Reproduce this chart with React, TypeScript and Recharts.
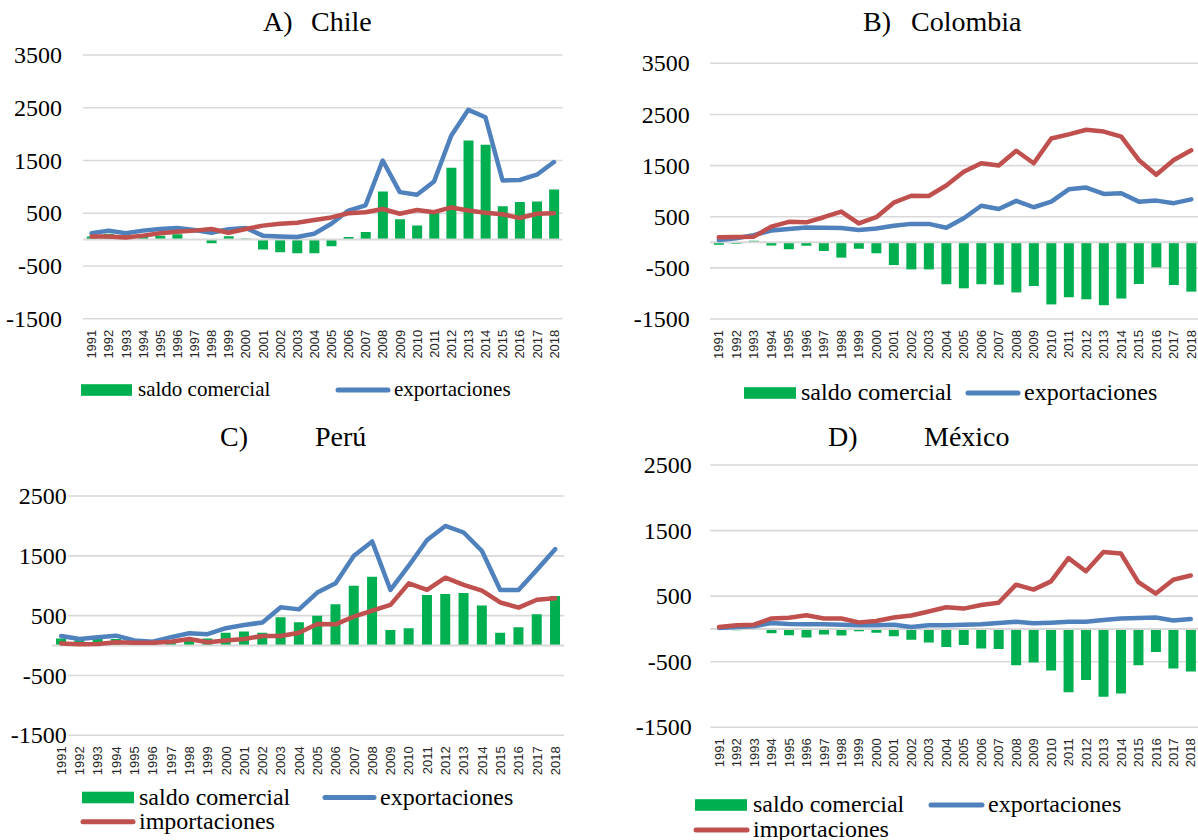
import React from 'react';
import { ComposedChart, Bar, Line, XAxis, YAxis, CartesianGrid, ReferenceLine } from 'recharts';

// ---- data (millones de dólares) ----
const years = [
  '1991', '1992', '1993', '1994', '1995', '1996', '1997', '1998', '1999', '2000',
  '2001', '2002', '2003', '2004', '2005', '2006', '2007', '2008', '2009', '2010',
  '2011', '2012', '2013', '2014', '2015', '2016', '2017', '2018',
];

const chileSaldo = [60, 110, 80, 95, 75, 100, 10, -70, 65, 20, -190, -240, -260, -260, -125, 50, 145, 910, 385, 265, 520, 1360, 1880, 1800, 630, 715, 720, 950];
const chileExport = [120, 170, 120, 170, 200, 220, 180, 130, 195, 220, 75, 60, 50, 110, 300, 550, 650, 1500, 900, 850, 1100, 1970, 2460, 2320, 1120, 1130, 1230, 1470];
const chileImport = [60, 60, 40, 75, 120, 150, 170, 200, 130, 200, 265, 300, 320, 370, 420, 500, 520, 580, 490, 560, 520, 610, 550, 510, 480, 410, 490, 500];

const colombiaSaldo = [-50, -30, 30, -65, -135, -70, -170, -300, -125, -215, -445, -530, -530, -820, -900, -820, -830, -980, -855, -1215, -1075, -1115, -1230, -1100, -815, -490, -835, -965];
const colombiaExport = [45, 80, 140, 230, 260, 290, 285, 280, 240, 270, 325, 360, 360, 285, 470, 715, 650, 810, 685, 795, 1035, 1070, 945, 960, 795, 815, 765, 840];
const colombiaImport = [100, 105, 110, 306, 400, 390, 490, 600, 370, 490, 775, 910, 905, 1110, 1380, 1545, 1500, 1790, 1545, 2030, 2110, 2200, 2165, 2065, 1610, 1320, 1610, 1800];

const peruSaldo = [120, 90, 110, 110, 40, 20, 75, 105, 120, 215, 235, 215, 475, 390, 500, 690, 1000, 1150, 260, 290, 845, 860, 880, 670, 215, 305, 525, 830];
const peruExport = [160, 110, 140, 165, 85, 65, 140, 205, 190, 290, 345, 385, 640, 605, 885, 1040, 1500, 1740, 930, 1335, 1765, 2000, 1890, 1580, 930, 930, 1265, 1610];
const peruImport = [35, 20, 28, 55, 45, 45, 65, 110, 55, 85, 110, 160, 160, 215, 360, 355, 485, 585, 680, 1040, 930, 1135, 1015, 920, 720, 635, 765, 790];

const mexicoSaldo = [-10, -20, -10, -65, -95, -130, -85, -100, -35, -60, -110, -165, -205, -275, -245, -300, -305, -555, -510, -635, -965, -780, -1035, -985, -555, -350, -605, -650];
const mexicoExport = [15, 30, 40, 90, 75, 70, 70, 65, 55, 55, 65, 30, 55, 55, 65, 70, 90, 110, 85, 95, 110, 110, 135, 160, 165, 175, 130, 150];
const mexicoImport = [30, 55, 65, 160, 170, 210, 160, 160, 100, 120, 175, 205, 265, 330, 310, 365, 400, 675, 600, 725, 1080, 880, 1175, 1150, 715, 540, 750, 815];

const ticksWide = [-1500, -500, 500, 1500, 2500, 3500];
const ticksNarrow = [-1500, -500, 500, 1500, 2500];

const SERIES_SALDO = 'saldo comercial';
const SERIES_EXP = 'exportaciones';
const SERIES_IMP = 'importaciones';

// ---- styling ----
const GREEN = '#00B050';
const BLUE = '#4F81BD';
const RED = '#C0504D';
const GRID = '#D9D9D9';
const SERIF = "'Liberation Serif', 'Times New Roman', serif";
const SANS = "'Liberation Sans', Arial, sans-serif";

function buildRows(saldo: number[], exp: number[], imp: number[]) {
  return years.map((year, i) => ({
    year,
    saldo: saldo[i],
    exportaciones: exp[i],
    importaciones: imp[i],
  }));
}

const YTick = (props: any) => {
  const { x, y, payload, shift } = props;
  const label = String(payload.value);
  const fs = 24;
  const w = label.length * fs * 0.5 + 2;
  const right = x + shift;
  return (
    <g>
      <rect x={right - w} y={y - fs * 0.42} width={w + 1} height={fs * 0.84} fill="#fff" />
      <text x={right} y={y} dy="0.34em" textAnchor="end" fontFamily={SERIF} fontSize={fs} fill="#000">
        {label}
      </text>
    </g>
  );
};

const XTick = (props: any) => {
  const { x, y, payload } = props;
  return (
    <text
      transform={`translate(${x},${y + 11}) rotate(-90)`}
      textAnchor="end"
      dy="0.36em"
      fontFamily={SANS}
      fontSize={13}
      fill="#262626"
    >
      {payload.value}
    </text>
  );
};

type PanelProps = {
  left: number;
  top: number;
  width: number;
  height: number;
  margin: { top: number; right: number; bottom: number; left: number };
  yAxisWidth: number;
  domain: [number, number];
  ticks: number[];
  tickShift: number;
  data: any[];
};

function Panel({ left, top, width, height, margin, yAxisWidth, domain, ticks, tickShift, data }: PanelProps) {
  return (
    <div style={{ position: 'absolute', left, top }}>
      <ComposedChart width={width} height={height} data={data} margin={margin} barCategoryGap="22%">
        <CartesianGrid horizontal vertical={false} stroke={GRID} strokeWidth={1.6} />
        <XAxis
          dataKey="year"
          interval={0}
          tickLine={false}
          axisLine={false}
          tickSize={0}
          tickMargin={0}
          height={40}
          tick={(p: any) => <XTick {...p} />}
        />
        <YAxis
          type="number"
          domain={domain}
          ticks={ticks}
          interval={0}
          width={yAxisWidth}
          tickLine={false}
          axisLine={false}
          tickSize={0}
          tickMargin={0}
          allowDataOverflow
          tick={(p: any) => <YTick {...p} shift={tickShift} />}
        />
        <ReferenceLine y={0} stroke={GRID} strokeWidth={2} />
        <Bar dataKey="saldo" name={SERIES_SALDO} fill={GREEN} isAnimationActive={false} />
        <Line
          type="linear"
          dataKey="exportaciones"
          name={SERIES_EXP}
          stroke={BLUE}
          strokeWidth={4.5}
          strokeLinejoin="round"
          strokeLinecap="round"
          dot={false}
          activeDot={false}
          isAnimationActive={false}
        />
        <Line
          type="linear"
          dataKey="importaciones"
          name={SERIES_IMP}
          stroke={RED}
          strokeWidth={4.5}
          strokeLinejoin="round"
          strokeLinecap="round"
          dot={false}
          activeDot={false}
          isAnimationActive={false}
        />
      </ComposedChart>
    </div>
  );
}

// legend pieces drawn in an overlay
function BarKey({ x1, x2, cy }: { x1: number; x2: number; cy: number }) {
  return <rect x={x1} y={cy - 5.8} width={x2 - x1} height={11.6} fill={GREEN} />;
}
function LineKey({ x1, x2, cy, color }: { x1: number; x2: number; cy: number; color: string }) {
  return <line x1={x1 + 2} x2={x2 - 2} y1={cy} y2={cy} stroke={color} strokeWidth={5} strokeLinecap="round" />;
}
function KeyText({ x, cy, fs, children }: { x: number; cy: number; fs: number; children: React.ReactNode }) {
  return (
    <text x={x} y={cy + fs * 0.3} fontFamily={SERIF} fontSize={fs} fill="#000">
      {children}
    </text>
  );
}
function Title({ x1, x2, base, a, b }: { x1: number; x2: number; base: number; a: string; b: string }) {
  return (
    <g fontFamily={SERIF} fontSize={28} fill="#000">
      <text x={x1} y={base}>{a}</text>
      <text x={x2} y={base}>{b}</text>
    </g>
  );
}

export default function App() {
  const chile = buildRows(chileSaldo, chileExport, chileImport);
  const colombia = buildRows(colombiaSaldo, colombiaExport, colombiaImport);
  const peru = buildRows(peruSaldo, peruExport, peruImport);
  const mexico = buildRows(mexicoSaldo, mexicoExport, mexicoImport);

  return (
    <div
      style={{
        position: 'absolute',
        left: 0,
        top: 0,
        width: 1198,
        height: 840,
        overflow: 'hidden',
        background: '#fff',
      }}
    >
      <Panel
        left={0}
        top={0}
        width={600}
        height={420}
        margin={{ top: 55, right: 37.5, bottom: 61.3, left: 0 }}
        yAxisWidth={83}
        domain={[-1500, 3500]}
        ticks={ticksWide}
        tickShift={-21}
        data={chile}
      />
      <Panel
        left={600}
        top={0}
        width={620}
        height={420}
        margin={{ top: 63.3, right: 20, bottom: 61, left: 0 }}
        yAxisWidth={110}
        domain={[-1500, 3500]}
        ticks={ticksWide}
        tickShift={-20.3}
        data={colombia}
      />
      <Panel
        left={0}
        top={420}
        width={600}
        height={420}
        margin={{ top: 76, right: 35.7, bottom: 64.7, left: 0 }}
        yAxisWidth={52}
        domain={[-1500, 2500]}
        ticks={ticksNarrow}
        tickShift={14.7}
        data={peru}
      />
      <Panel
        left={600}
        top={420}
        width={620}
        height={420}
        margin={{ top: 45, right: 20.5, bottom: 72.7, left: 0 }}
        yAxisWidth={110.3}
        domain={[-1500, 2500]}
        ticks={ticksNarrow}
        tickShift={-18.6}
        data={mexico}
      />

      <svg
        width={1198}
        height={840}
        style={{ position: 'absolute', left: 0, top: 0, pointerEvents: 'none' }}
      >
        <Title x1={263} x2={311} base={31} a="A)" b="Chile" />
        <Title x1={863} x2={911} base={31} a="B)" b="Colombia" />
        <Title x1={220} x2={315} base={446} a="C)" b="Perú" />
        <Title x1={828} x2={924} base={446} a="D)" b="México" />

        {/* Chile */}
        <BarKey x1={81} x2={132} cy={390} />
        <KeyText x={138} cy={390} fs={21}>{SERIES_SALDO}</KeyText>
        <LineKey x1={336} x2={390} cy={390} color={BLUE} />
        <KeyText x={394} cy={390} fs={21}>{SERIES_EXP}</KeyText>

        {/* Colombia */}
        <BarKey x1={744} x2={796} cy={393} />
        <KeyText x={801} cy={393} fs={24}>{SERIES_SALDO}</KeyText>
        <LineKey x1={966} x2={1020} cy={393} color={BLUE} />
        <KeyText x={1024} cy={393} fs={24}>{SERIES_EXP}</KeyText>

        {/* Perú */}
        <BarKey x1={82} x2={134} cy={797.5} />
        <KeyText x={139} cy={797.5} fs={24}>{SERIES_SALDO}</KeyText>
        <LineKey x1={323} x2={376} cy={797.5} color={BLUE} />
        <KeyText x={380} cy={797.5} fs={24}>{SERIES_EXP}</KeyText>
        <LineKey x1={81} x2={135} cy={821.7} color={RED} />
        <KeyText x={139} cy={821.7} fs={24}>{SERIES_IMP}</KeyText>

        {/* México */}
        <BarKey x1={695} x2={747} cy={805} />
        <KeyText x={753} cy={805} fs={24}>{SERIES_SALDO}</KeyText>
        <LineKey x1={929} x2={984} cy={805} color={BLUE} />
        <KeyText x={988} cy={805} fs={24}>{SERIES_EXP}</KeyText>
        <LineKey x1={694} x2={749} cy={830} color={RED} />
        <KeyText x={753} cy={830} fs={24}>{SERIES_IMP}</KeyText>
      </svg>
    </div>
  );
}
